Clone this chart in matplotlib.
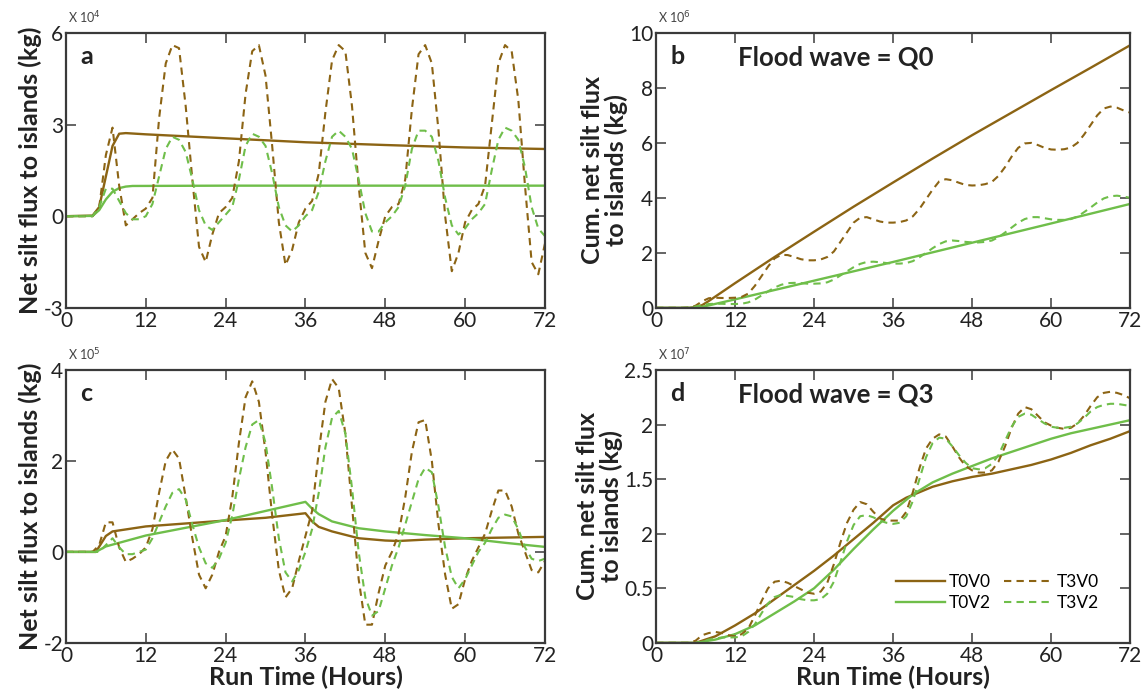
import numpy as np
import matplotlib
matplotlib.use("Agg")
import matplotlib.pyplot as plt

plt.rcParams['font.family'] = ['Lato', 'DejaVu Sans']

BROWN = '#8C6414'
GREEN = '#6FBE4A'
SPINE = '#3a3a3a'

hours = list(range(0, 73))

# ---- panel a : net flux, flood wave Q0 (x 10^4 kg)
a_t0v0_t = [0, 4, 5, 6, 7, 8, 9, 12, 24, 36, 48, 60, 72]
a_t0v0 = [0, 0.02, 0.3, 1.3, 2.3, 2.7, 2.72, 2.68, 2.55, 2.42, 2.33, 2.25, 2.2]
a_t0v2_t = [0, 4, 5, 6, 7, 8, 9, 10, 24, 48, 72]
a_t0v2 = [0, 0.01, 0.2, 0.55, 0.8, 0.92, 0.97, 0.99, 1.0, 1.0, 1.0]
a_t3v0 = [0, 0, 0, 0, 0, 0.3, 2.0, 2.9, 1.0, -0.3, -0.1, 0.1, 0.25, 0.6, 3.2,
          5.0, 5.6, 5.5, 3.6, 1.2, -1.0, -1.5, -0.6, 0.1, 0.3, 0.6, 1.8, 4.0,
          5.4, 5.6, 4.6, 2.3, -0.2, -1.6, -1.1, -0.2, 0.25, 0.5, 1.4, 3.4, 5.1,
          5.6, 5.4, 3.6, 1.0, -1.2, -1.7, -0.8, 0.0, 0.3, 0.4, 1.2, 3.5, 5.3,
          5.6, 5.0, 2.8, 0.0, -1.8, -1.2, -0.2, 0.2, 0.4, 1.0, 3.0, 5.0, 5.6,
          5.4, 3.8, 1.0, -1.5, -1.9, -0.9]
a_t3v2 = [0, 0, 0, 0, 0, 0.3, 0.9, 0.9, 0.5, 0.1, -0.1, -0.1, 0.0, 0.4, 1.3,
          2.2, 2.6, 2.5, 2.1, 1.2, 0.2, -0.3, -0.45, -0.2, 0.05, 0.3, 1.2, 2.3,
          2.7, 2.6, 2.3, 1.4, 0.3, -0.3, -0.5, -0.3, 0.0, 0.2, 0.8, 1.8, 2.6,
          2.8, 2.6, 2.2, 1.2, 0.1, -0.5, -0.5, -0.2, 0.0, 0.3, 1.0, 2.2, 2.8,
          2.8, 2.6, 1.8, 0.6, -0.3, -0.6, -0.4, -0.1, 0.1, 0.4, 1.5, 2.5, 2.9,
          2.8, 2.5, 1.6, 0.3, -0.4, -0.65]

# ---- panel b : cumulative flux, Q0 (x 10^6 kg)
b_t0v0_t = [0, 5, 6, 7, 8, 12, 18, 24, 30, 36, 42, 48, 54, 60, 66, 72]
b_t0v0 = [0, 0, 0.03, 0.1, 0.25, 0.9, 1.85, 2.77, 3.68, 4.56, 5.43, 6.28, 7.1,
          7.92, 8.73, 9.55]
b_t0v2_t = [0, 5, 6, 7, 8, 12, 24, 36, 48, 60, 72]
b_t0v2 = [0, 0, 0.01, 0.04, 0.09, 0.31, 0.99, 1.67, 2.37, 3.07, 3.78]
b_t3v0 = [0, 0, 0, 0, 0, 0.01, 0.08, 0.24, 0.35, 0.37, 0.36, 0.36, 0.37, 0.4,
          0.52, 0.8, 1.15, 1.5, 1.8, 1.93, 1.92, 1.85, 1.77, 1.73, 1.73, 1.76,
          1.85, 2.05, 2.4, 2.75, 3.1, 3.28, 3.3, 3.22, 3.14, 3.1, 3.1, 3.12,
          3.18, 3.33, 3.6, 3.95, 4.3, 4.6, 4.68, 4.64, 4.55, 4.47, 4.45, 4.46,
          4.5, 4.58, 4.8, 5.12, 5.5, 5.82, 5.98, 6.0, 5.92, 5.82, 5.76, 5.75,
          5.77, 5.83, 6.0, 6.3, 6.65, 7.0, 7.25, 7.32, 7.28, 7.18, 7.1]
b_t3v2 = [0, 0, 0, 0, 0, 0.01, 0.05, 0.1, 0.14, 0.15, 0.15, 0.14, 0.14, 0.15,
          0.2, 0.3, 0.45, 0.6, 0.74, 0.84, 0.9, 0.91, 0.9, 0.88, 0.88, 0.89,
          0.93, 1.03, 1.18, 1.33, 1.48, 1.6, 1.67, 1.68, 1.66, 1.63, 1.61, 1.61,
          1.63, 1.7, 1.84, 2.0, 2.17, 2.32, 2.42, 2.45, 2.43, 2.4, 2.38, 2.38,
          2.4, 2.45, 2.57, 2.74, 2.92, 3.1, 3.23, 3.3, 3.3, 3.26, 3.22, 3.2,
          3.2, 3.23, 3.32, 3.48, 3.65, 3.83, 3.98, 4.06, 4.08, 4.05, 4.0]

# ---- panel c : net flux, flood wave Q3 (x 10^5 kg)
c_t0v0_t = [0, 4.5, 6, 7, 12, 24, 30, 36, 37, 38, 40, 44, 48, 50, 54, 60, 72]
c_t0v0 = [0, 0, 0.35, 0.45, 0.56, 0.69, 0.75, 0.85, 0.67, 0.55, 0.45, 0.3,
          0.25, 0.24, 0.27, 0.3, 0.33]
c_t0v2_t = [0, 4.5, 6, 12, 24, 36, 37, 38, 40, 44, 48, 54, 60, 66, 72]
c_t0v2 = [0, 0, 0.12, 0.36, 0.7, 1.1, 0.95, 0.83, 0.67, 0.52, 0.45, 0.37,
          0.3, 0.2, 0.11]
c_t3v0 = [0, 0, 0, 0, 0, 0.15, 0.65, 0.65, 0.1, -0.22, -0.15, -0.05, 0.1, 0.5,
          1.3, 2.0, 2.25, 2.05, 1.2, 0.3, -0.5, -0.8, -0.5, 0.0, 0.35, 1.2, 2.4,
          3.4, 3.75, 3.3, 2.2, 0.8, -0.4, -1.0, -0.8, -0.2, 0.35, 0.9, 2.2, 3.3,
          3.8, 3.6, 2.6, 1.0, -0.6, -1.6, -1.6, -0.9, -0.3, 0.0, 0.4, 1.2, 2.2,
          2.85, 2.9, 2.0, 0.6, -0.5, -1.25, -1.15, -0.6, -0.2, 0.1, 0.4, 0.9,
          1.35, 1.35, 1.0, 0.4, 0.0, -0.4, -0.45, -0.2]
c_t3v2 = [0, 0, 0, 0, 0, 0, 0.15, 0.3, 0.1, -0.05, -0.05, 0.0, 0.05, 0.3, 0.65,
          1.0, 1.3, 1.38, 1.15, 0.6, 0.1, -0.25, -0.35, -0.15, 0.2, 0.8, 1.6,
          2.3, 2.8, 2.9, 2.4, 1.4, 0.3, -0.45, -0.65, -0.4, 0.0, 0.5, 1.3, 2.3,
          2.95, 3.1, 2.6, 1.4, 0.0, -1.0, -1.4, -1.3, -0.8, -0.3, 0.1, 0.6, 1.1,
          1.6, 1.85, 1.75, 1.0, 0.1, -0.55, -0.8, -0.6, -0.3, 0.0, 0.2, 0.5,
          0.75, 0.82, 0.78, 0.5, 0.1, -0.15, -0.2, -0.15]

# ---- panel d : cumulative flux, Q3 (x 10^7 kg)
d_t0v0_t = [0, 6, 9, 12, 15, 18, 21, 24, 27, 30, 33, 36, 38, 40, 42, 45, 48,
            51, 54, 57, 60, 63, 66, 69, 72]
d_t0v0 = [0, 0, 0.06, 0.16, 0.27, 0.4, 0.53, 0.66, 0.8, 0.95, 1.1, 1.26, 1.33,
          1.38, 1.43, 1.48, 1.52, 1.55, 1.59, 1.63, 1.68, 1.74, 1.81, 1.87,
          1.94]
d_t0v2_t = [0, 6, 9, 12, 15, 18, 21, 24, 27, 30, 33, 36, 39, 42, 45, 48, 51,
            54, 57, 60, 63, 66, 69, 72]
d_t0v2 = [0, 0, 0.03, 0.08, 0.16, 0.27, 0.38, 0.5, 0.67, 0.86, 1.04, 1.21,
          1.36, 1.47, 1.55, 1.62, 1.69, 1.75, 1.81, 1.87, 1.92, 1.96, 2.0,
          2.04]
d_t3v0 = [0, 0, 0, 0, 0, 0, 0.02, 0.07, 0.09, 0.1, 0.09, 0.07, 0.06, 0.08,
          0.13, 0.25, 0.38, 0.5, 0.56, 0.57, 0.55, 0.52, 0.49, 0.46, 0.45, 0.47,
          0.55, 0.72, 0.92, 1.1, 1.22, 1.29, 1.27, 1.2, 1.14, 1.12, 1.12, 1.12,
          1.2, 1.38, 1.6, 1.78, 1.87, 1.91, 1.89, 1.8, 1.7, 1.62, 1.58, 1.56,
          1.56, 1.58, 1.66, 1.8, 1.97, 2.1, 2.16, 2.14, 2.08, 2.02, 1.99, 1.97,
          1.96, 1.97, 2.01, 2.08, 2.17, 2.25, 2.29, 2.3, 2.29, 2.27, 2.24]
d_t3v2 = [0, 0, 0, 0, 0, 0, 0.0, 0.01, 0.03, 0.04, 0.05, 0.05, 0.05, 0.06,
          0.1, 0.17, 0.27, 0.36, 0.42, 0.44, 0.43, 0.42, 0.4, 0.39, 0.39, 0.4,
          0.45, 0.56, 0.74, 0.93, 1.08, 1.16, 1.17, 1.15, 1.12, 1.1, 1.09, 1.1,
          1.16, 1.3, 1.5, 1.7, 1.83, 1.88, 1.87, 1.8, 1.72, 1.65, 1.6, 1.59,
          1.6, 1.64, 1.72, 1.85, 1.98, 2.07, 2.1, 2.09, 2.05, 2.01, 1.98, 1.97,
          1.97, 1.98, 2.01, 2.06, 2.12, 2.16, 2.18, 2.19, 2.19, 2.18, 2.17]

xticks = [0, 12, 24, 36, 48, 60, 72]

panels = [
    dict(pos=[0.0575, 0.557, 0.4176, 0.3957], letter='a', exp='4',
         ylim=(-3, 6), yticks=[-3, 0, 3, 6], ylabels=['-3', '0', '3', '6'],
         ylabel='Net silt flux to islands (kg)', title=None,
         t0v0=(a_t0v0_t, a_t0v0), t0v2=(a_t0v2_t, a_t0v2),
         t3v0=a_t3v0, t3v2=a_t3v2, xlabel=False),
    dict(pos=[0.572, 0.557, 0.4133, 0.3957], letter='b', exp='6',
         ylim=(0, 10), yticks=[0, 2, 4, 6, 8, 10],
         ylabels=['0', '2', '4', '6', '8', '10'],
         ylabel='Cum. net silt flux\nto islands (kg)', title='Flood wave = Q0',
         t0v0=(b_t0v0_t, b_t0v0), t0v2=(b_t0v2_t, b_t0v2),
         t3v0=b_t3v0, t3v2=b_t3v2, xlabel=False),
    dict(pos=[0.0575, 0.075, 0.4176, 0.3927], letter='c', exp='5',
         ylim=(-2, 4), yticks=[-2, 0, 2, 4], ylabels=['-2', '0', '2', '4'],
         ylabel='Net silt flux to islands (kg)', title=None,
         t0v0=(c_t0v0_t, c_t0v0), t0v2=(c_t0v2_t, c_t0v2),
         t3v0=c_t3v0, t3v2=c_t3v2, xlabel=True),
    dict(pos=[0.572, 0.075, 0.4133, 0.3927], letter='d', exp='7',
         ylim=(0, 2.5), yticks=[0, 0.5, 1.0, 1.5, 2.0, 2.5],
         ylabels=['0', '0.5', '2', '1.5', '2', '2.5'],
         ylabel='Cum. net silt flux\nto islands (kg)', title='Flood wave = Q3',
         t0v0=(d_t0v0_t, d_t0v0), t0v2=(d_t0v2_t, d_t0v2),
         t3v0=d_t3v0, t3v2=d_t3v2, xlabel=True),
]

fig = plt.figure(figsize=(11.47, 6.95), dpi=100)

for p in panels:
    ax = fig.add_axes(p['pos'])
    l1, = ax.plot(p['t0v0'][0], p['t0v0'][1], color=BROWN, lw=1.7, label='T0V0')
    l2, = ax.plot(p['t0v2'][0], p['t0v2'][1], color=GREEN, lw=1.7, label='T0V2')
    l3, = ax.plot(hours, p['t3v0'], color=BROWN, lw=1.5, dashes=(3.5, 2.5),
                  label='T3V0')
    l4, = ax.plot(hours, p['t3v2'], color=GREEN, lw=1.5, dashes=(3.5, 2.5),
                  label='T3V2')
    ax.set_xlim(0, 72)
    ax.set_ylim(*p['ylim'])
    ax.set_xticks(xticks)
    ax.set_xticklabels([str(x) for x in xticks])
    ax.set_yticks(p['yticks'])
    ax.set_yticklabels(p['ylabels'])
    ax.tick_params(direction='in', length=7, width=1.1, colors=SPINE,
                   labelsize=15, top=True, right=True, pad=2)
    for lab in ax.get_xticklabels() + ax.get_yticklabels():
        lab.set_color('#222222')
    for s in ax.spines.values():
        s.set_color(SPINE)
        s.set_linewidth(1.6)
    ax.set_ylabel(p['ylabel'], fontsize=18, fontweight='bold', labelpad=1,
                  linespacing=1.0, color='#222222')
    if p['xlabel']:
        ax.set_xlabel('Run Time (Hours)', fontsize=18, fontweight='bold',
                      labelpad=0, color='#222222')
    ax.text(0.03, 0.915, p['letter'], transform=ax.transAxes, fontsize=18,
            fontweight='bold', va='center', ha='left', color='#222222')
    if p['title']:
        ax.text(0.173, 0.91, p['title'], transform=ax.transAxes, fontsize=18.5,
                fontweight='bold', va='center', ha='left', color='#222222')
    ax.text(0.005, 1.025, 'X 10$^{%s}$' % p['exp'], transform=ax.transAxes,
            fontsize=9, va='bottom', ha='left', color='#444444')
    if p['letter'] == 'd':
        ax.legend(handles=[l1, l2, l3, l4], ncol=2, frameon=False,
                  fontsize=12.5, loc='lower right', bbox_to_anchor=(0.955, 0.08),
                  handlelength=2.8, handletextpad=0.2, columnspacing=0.8,
                  labelspacing=0.25, borderaxespad=0.2)

fig.savefig('out.png', dpi=100)
